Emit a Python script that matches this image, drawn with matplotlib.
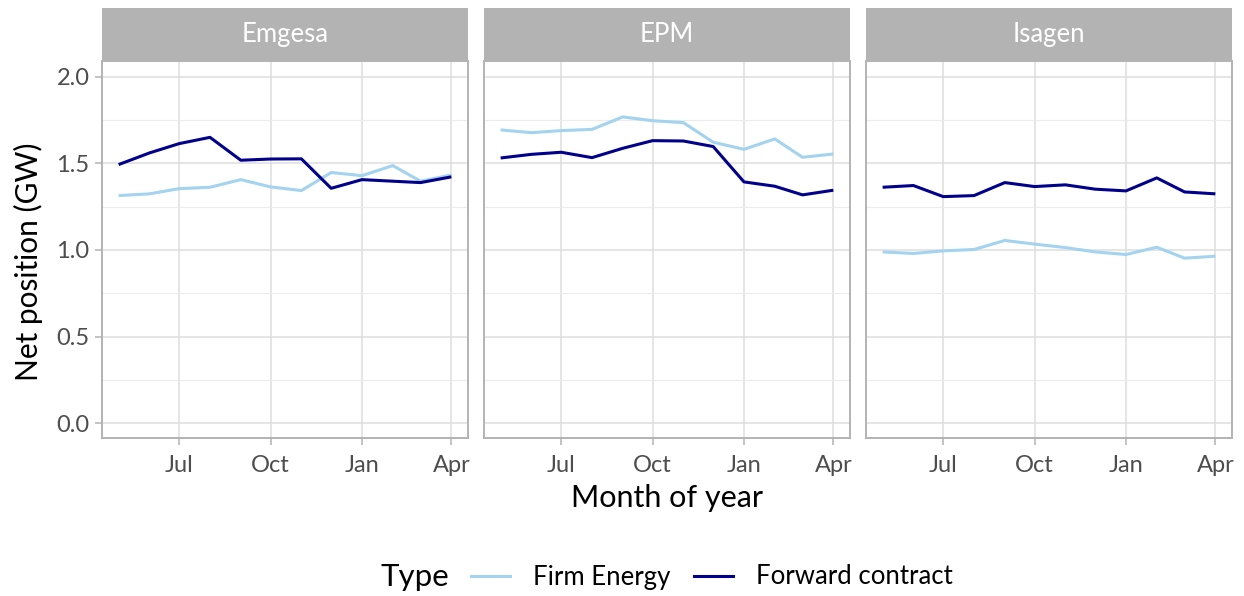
import datetime as dt

import matplotlib
matplotlib.use("Agg")
import matplotlib.pyplot as plt
import matplotlib.dates as mdates
from matplotlib.lines import Line2D

plt.rcParams["font.family"] = ["Lato", "DejaVu Sans"]

# monthly observations, May through April
months = [dt.date(2017, m, 1) for m in range(5, 13)] + [dt.date(2018, m, 1) for m in range(1, 5)]
companies = ["Emgesa", "EPM", "Isagen"]

firm_energy = {
    "Emgesa": [1.314, 1.324, 1.354, 1.362, 1.406, 1.364, 1.343, 1.447, 1.429, 1.487, 1.397, 1.433],
    "EPM":    [1.693, 1.677, 1.689, 1.696, 1.768, 1.746, 1.735, 1.622, 1.581, 1.641, 1.535, 1.554],
    "Isagen": [0.989, 0.980, 0.995, 1.003, 1.055, 1.034, 1.014, 0.989, 0.974, 1.016, 0.953, 0.964],
}
forward_contract = {
    "Emgesa": [1.493, 1.560, 1.614, 1.650, 1.518, 1.525, 1.526, 1.356, 1.406, 1.397, 1.389, 1.422],
    "EPM":    [1.531, 1.552, 1.564, 1.533, 1.587, 1.631, 1.629, 1.597, 1.393, 1.368, 1.318, 1.345],
    "Isagen": [1.362, 1.372, 1.308, 1.314, 1.389, 1.366, 1.376, 1.351, 1.341, 1.416, 1.335, 1.324],
}

LIGHT = "#a3d3ef"
DARK = "#00008b"
GRID = "#dedede"
BORDER = "#b3b3b3"
TICKTXT = "#4d4d4d"

W, H = 1244, 596
fig = plt.figure(figsize=(W / 100, H / 100), dpi=100)

panel_left = [102, 484, 866]
panel_w = 366
panel_top, panel_bot = 61, 438
strip_top = 8

span = (mdates.date2num(months[-1]) - mdates.date2num(months[0]))
xlim = (mdates.date2num(months[0]) - 0.05 * span, mdates.date2num(months[-1]) + 0.05 * span)
ypx0, ypx2 = 423.3, 76.7  # pixel rows for 0.0 and 2.0
per = (ypx0 - ypx2) / 2.0
ylim = (-(panel_bot - ypx0) / per, (ypx0 - panel_top) / per)

xticks = [dt.date(2017, 7, 1), dt.date(2017, 10, 1), dt.date(2018, 1, 1), dt.date(2018, 4, 1)]

for i, name in enumerate(companies):
    x0 = panel_left[i]
    ax = fig.add_axes([x0 / W, 1 - panel_bot / H, panel_w / W, (panel_bot - panel_top) / H])
    ax.plot(months, firm_energy[name], color=LIGHT, lw=2.2, solid_capstyle="butt", zorder=3)
    ax.plot(months, forward_contract[name], color=DARK, lw=2.2, solid_capstyle="butt", zorder=3)
    ax.set_xlim(xlim)
    ax.set_ylim(ylim)
    ax.set_xticks(xticks)
    ax.xaxis.set_major_formatter(mdates.DateFormatter("%b"))
    ax.set_yticks([0, 0.5, 1.0, 1.5, 2.0])
    ax.set_yticks([0.25, 0.75, 1.25, 1.75], minor=True)
    ax.grid(True, which="major", color=GRID, lw=1.1, zorder=0)
    ax.grid(True, which="minor", axis="y", color="#ececec", lw=0.8, zorder=0)
    ax.set_axisbelow(True)
    for s in ax.spines.values():
        s.set_color(BORDER)
        s.set_linewidth(1.4)
    ax.tick_params(axis="both", which="major", color=BORDER, length=5, width=1.1,
                   labelsize=17, labelcolor=TICKTXT, pad=4)
    ax.tick_params(axis="x", which="major", pad=7)
    ax.tick_params(axis="both", which="minor", length=0)
    if i > 0:
        ax.tick_params(axis="y", labelleft=False, length=0)
    else:
        ax.yaxis.set_major_formatter(matplotlib.ticker.FormatStrFormatter("%.1f"))

    sax = fig.add_axes([x0 / W, 1 - panel_top / H, panel_w / W, (panel_top - strip_top) / H])
    sax.set_facecolor(BORDER)
    sax.set_xticks([])
    sax.set_yticks([])
    for s in sax.spines.values():
        s.set_visible(False)
    sax.text(0.5, 0.5, name, color="white", fontsize=18.5, ha="center", va="center",
             transform=sax.transAxes)

fig.text(667 / W, 1 - 498 / H, "Month of year", fontsize=22, ha="center", va="center")
fig.text(28 / W, 1 - 262 / H, "Net position (GW)", fontsize=21.5, ha="center", va="center",
         rotation=90)

fig.text(415 / W, 1 - 577 / H, "Type", fontsize=22.5, ha="center", va="center")
handles = [Line2D([], [], color=LIGHT, lw=2.2), Line2D([], [], color=DARK, lw=2.2)]
fig.legend(handles, ["Firm Energy", "Forward contract"], loc="center left",
           bbox_to_anchor=(471 / W, 1 - 577 / H), ncol=2, frameon=False, borderpad=0,
           borderaxespad=0, fontsize=18.5, handlelength=1.52, handletextpad=0.9,
           columnspacing=0.9)

fig.savefig("out.png", dpi=100)
